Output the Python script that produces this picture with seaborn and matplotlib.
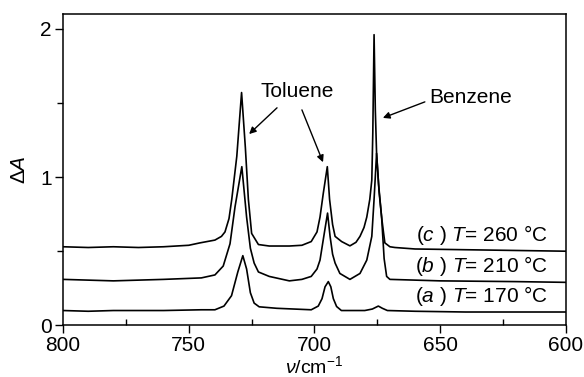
import matplotlib
matplotlib.use("Agg")
import matplotlib.pyplot as plt
from matplotlib.ticker import MultipleLocator
import seaborn as sns
import pandas as pd

# ---- data ----
wn_c = [800, 790, 780, 770, 760, 750, 745.6, 739.6, 737, 735.6, 734, 732.9, 730.9, 729,
        727.5, 726.3, 725, 722.3, 718, 710, 705, 701.3, 699, 697.8, 696.5, 694.9, 694,
        692.8, 691.8, 689.2, 685.9, 683.5, 681.9, 680.3, 679.2, 678, 677.2, 676.8, 676.3,
        675.8, 675.3, 674.3, 673.3, 672.5, 672, 670, 668, 660, 640, 620, 600]
A_c = [0.53, 0.525, 0.53, 0.525, 0.53, 0.54, 0.556, 0.575, 0.60, 0.63, 0.72, 0.85, 1.14,
       1.57, 1.20, 0.85, 0.62, 0.545, 0.535, 0.535, 0.54, 0.565, 0.63, 0.73, 0.89, 1.07,
       0.85, 0.68, 0.60, 0.565, 0.536, 0.56, 0.60, 0.66, 0.73, 0.85, 0.98, 1.30, 1.96,
       1.45, 1.16, 0.90, 0.73, 0.62, 0.556, 0.53, 0.525, 0.515, 0.51, 0.505, 0.50]

wn_b = [800, 790, 780, 770, 760, 745, 739.6, 736.3, 733.6, 731.6, 728.9, 727, 725.5, 724,
        722.3, 718, 710, 705, 701.3, 699, 697.8, 696.3, 694.8, 693.8, 692.8, 691.8, 689.9,
        685.9, 681.9, 679.2, 677.2, 676.3, 675.3, 674.5, 673.3, 672.3, 671.3, 670, 650, 620,
        600]
A_b = [0.31, 0.305, 0.30, 0.305, 0.31, 0.32, 0.34, 0.40, 0.55, 0.80, 1.07, 0.73, 0.52,
       0.42, 0.36, 0.33, 0.30, 0.31, 0.33, 0.38, 0.44, 0.60, 0.757, 0.60, 0.48, 0.42, 0.35,
       0.31, 0.35, 0.44, 0.60, 0.85, 1.16, 0.95, 0.73, 0.45, 0.33, 0.31, 0.30, 0.295, 0.29]

wn_a = [800, 790, 780, 770, 760, 745, 739.6, 736, 733, 730.5, 728.5, 727, 725.5, 724, 722,
        715, 701.3, 698.5, 697, 695.8, 694.5, 693.5, 692.5, 691.2, 689.3, 686, 680, 677,
        674.6, 673, 671, 660, 640, 620, 600]
A_a = [0.10, 0.095, 0.10, 0.10, 0.10, 0.105, 0.105, 0.13, 0.20, 0.36, 0.47, 0.38, 0.22,
       0.15, 0.125, 0.115, 0.105, 0.13, 0.18, 0.26, 0.295, 0.26, 0.18, 0.127, 0.10, 0.10,
       0.10, 0.11, 0.13, 0.115, 0.10, 0.095, 0.09, 0.09, 0.09]

letters = ["a", "b", "c"]
temps = ["170", "210", "260"]
label_levels = [0.20, 0.40, 0.61]

df = pd.concat([
    pd.DataFrame({"wn": wn_a, "A": A_a, "s": "a"}),
    pd.DataFrame({"wn": wn_b, "A": A_b, "s": "b"}),
    pd.DataFrame({"wn": wn_c, "A": A_c, "s": "c"}),
])

sns.set_theme(style="ticks")
plt.rcParams["font.family"] = ["Liberation Sans", "DejaVu Sans"]
plt.rcParams["mathtext.fontset"] = "custom"
plt.rcParams["mathtext.rm"] = "Liberation Sans"
plt.rcParams["mathtext.it"] = "Liberation Sans:italic"
plt.rcParams["mathtext.bf"] = "Liberation Sans:bold"
plt.rcParams["text.color"] = "black"
plt.rcParams["axes.labelcolor"] = "black"
plt.rcParams["xtick.color"] = "black"
plt.rcParams["ytick.color"] = "black"

fig = plt.figure(figsize=(5.84, 3.77), dpi=100)
ax = fig.add_axes([0.108, 0.137, 0.861, 0.826])

sns.lineplot(data=df, x="wn", y="A", units="s", estimator=None, color="black",
             linewidth=1.2, ax=ax, legend=False)

ax.set_xlim(800, 600)
ax.set_ylim(0, 2.1)
ax.xaxis.set_major_locator(MultipleLocator(50))
ax.xaxis.set_minor_locator(MultipleLocator(25))
ax.yaxis.set_major_locator(MultipleLocator(1))
ax.yaxis.set_minor_locator(MultipleLocator(0.5))
ax.tick_params(axis="both", which="major", labelsize=15, length=6, width=1.0,
               color="black", labelcolor="black", pad=2)
ax.tick_params(axis="y", which="minor", length=4, width=1.0, direction="out", color="black")
ax.tick_params(axis="x", which="minor", length=4, width=1.0, direction="in", color="black")
for sp in ax.spines.values():
    sp.set_visible(True)
    sp.set_linewidth(1.1)
    sp.set_color("black")

ax.set_xlabel(r"$\it{\nu}$/cm$^{-1}$", fontsize=14, color="black")
ax.set_ylabel(r"$\Delta\it{A}$", fontsize=15, color="black")
ax.xaxis.set_label_coords(0.5, -0.097)
ax.yaxis.set_label_coords(-0.068, 0.5)

for let, t, yv in zip(letters, temps, label_levels):
    ax.text(0.964, yv, rf"($\it{{{let}}}$ ) $\it{{T}}$= {t} °C", transform=ax.get_yaxis_transform(),
            ha="right", va="center", fontsize=15, color="black")

arrow = dict(arrowstyle="-|>", color="black", lw=1.0, mutation_scale=10, shrinkA=0, shrinkB=0)
ax.text(707, 1.574, "Toluene", ha="center", va="center", fontsize=15, color="black")
ax.annotate("", xy=(726.0, 1.29), xytext=(714.9, 1.467), arrowprops=arrow)
ax.annotate("", xy=(696.6, 1.10), xytext=(705.0, 1.453), arrowprops=arrow)
ax.text(637.8, 1.534, "Benzene", ha="center", va="center", fontsize=15, color="black")
ax.annotate("", xy=(672.8, 1.399), xytext=(656.1, 1.507), arrowprops=arrow)

fig.savefig("out.png", dpi=100)
